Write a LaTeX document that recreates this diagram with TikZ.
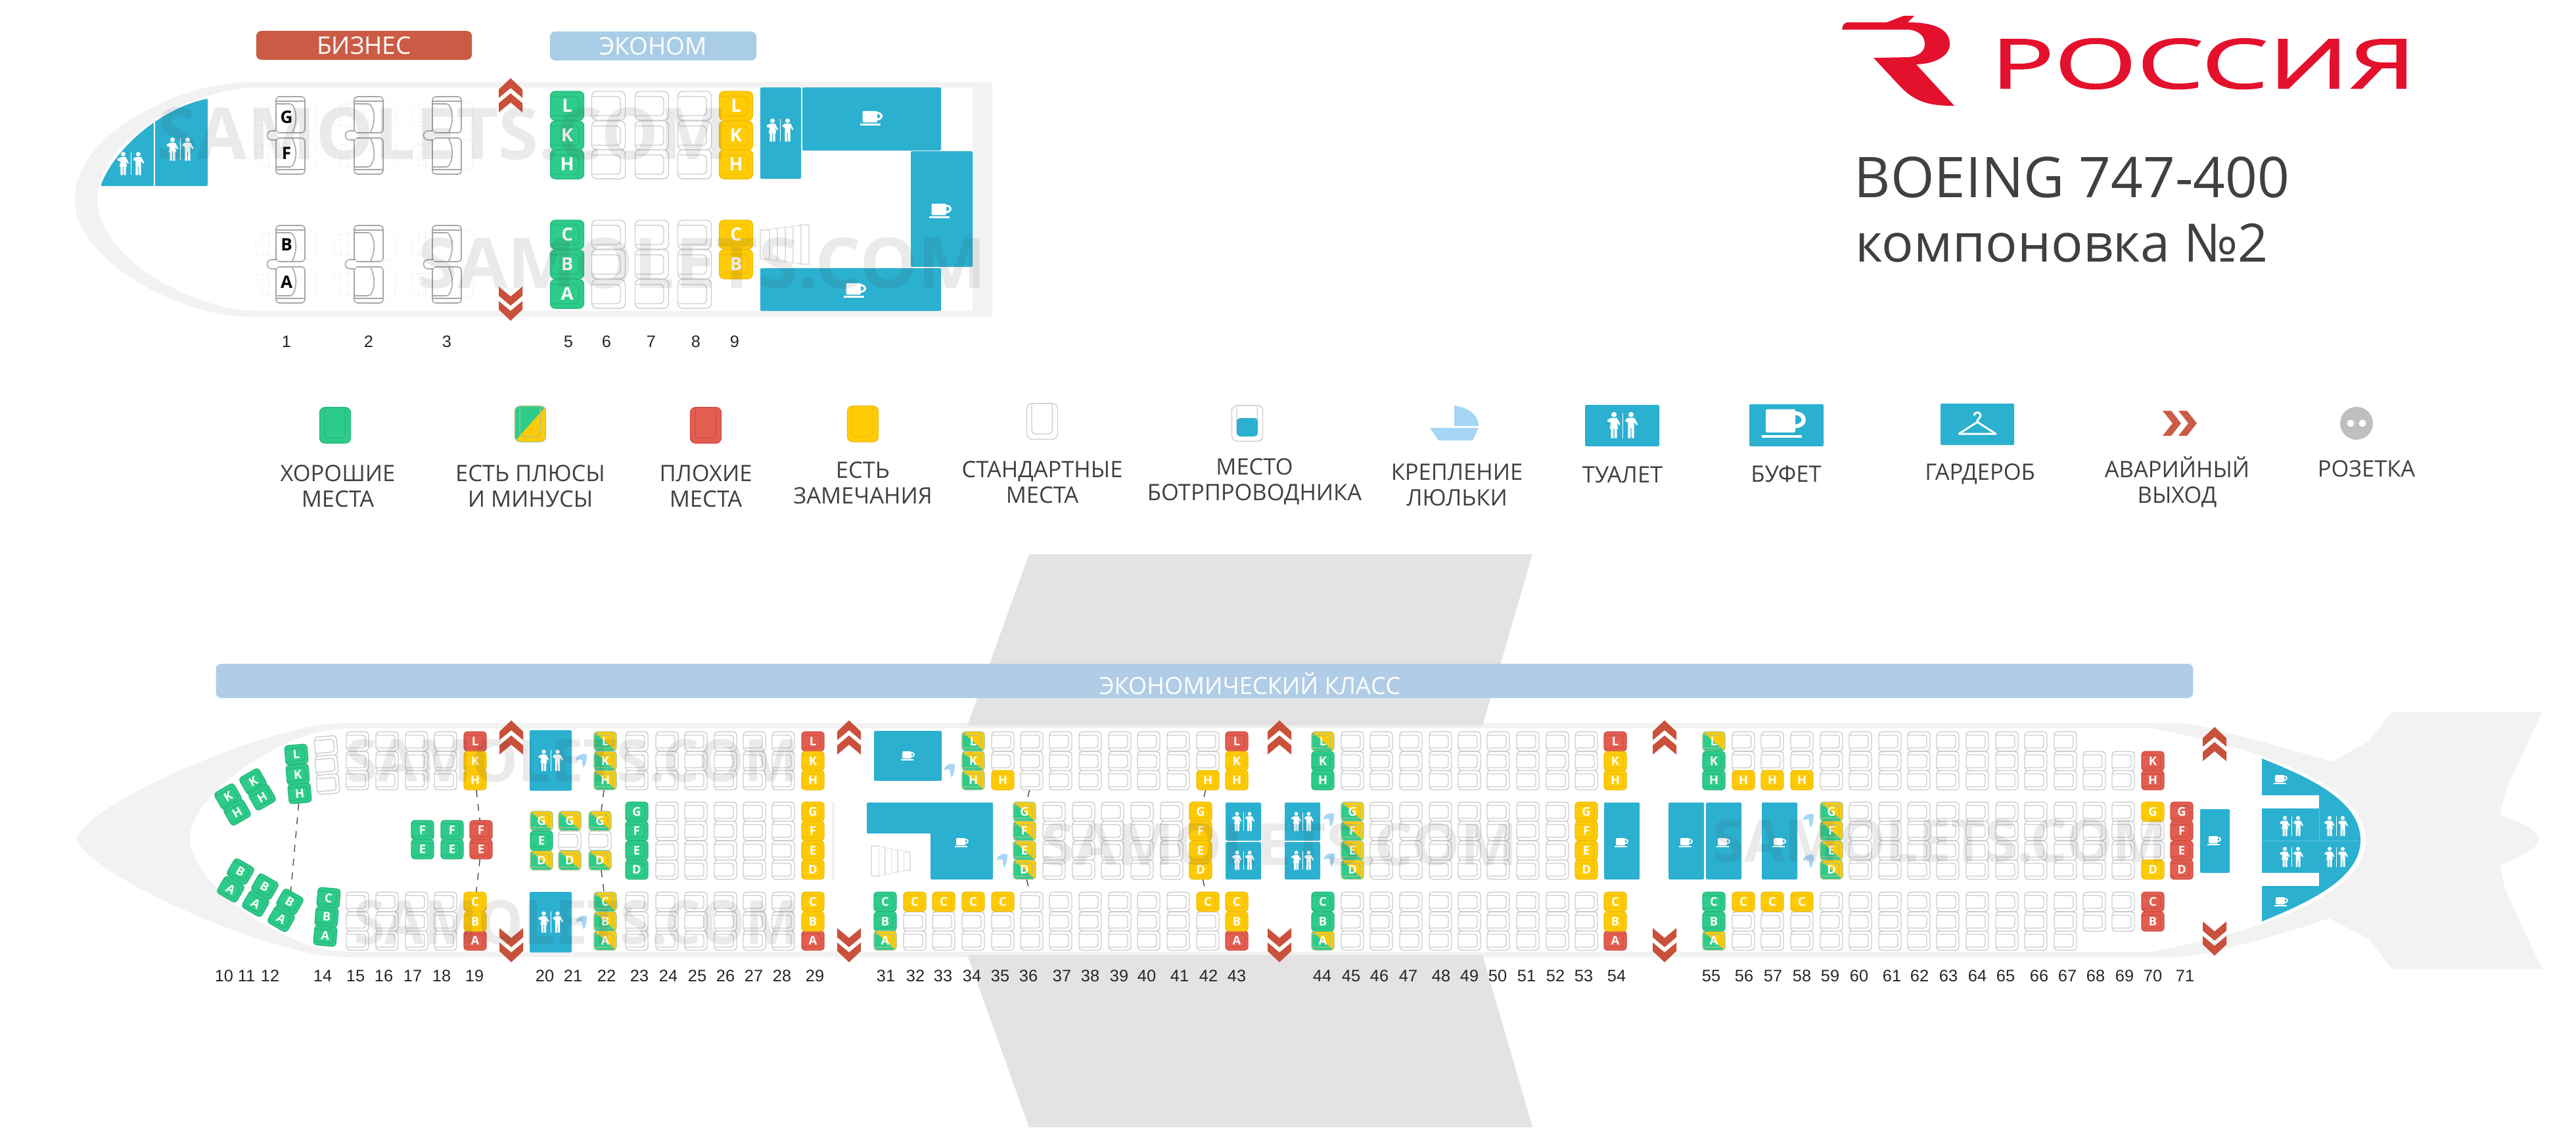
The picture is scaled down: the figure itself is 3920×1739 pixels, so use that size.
\documentclass[tikz,border=0pt]{standalone}
\usepackage{fontspec}
\setmainfont{Open Sans}
\newfontfamily\numfont{Liberation Sans}
\newfontfamily\logofont[FakeBold=1.2]{Open Sans}
\definecolor{segreen}{HTML}{2ECC8A}
\definecolor{segreendk}{HTML}{28B87E}
\definecolor{seyellow}{HTML}{FFCB05}
\definecolor{seyellowdk}{HTML}{F0BE08}
\definecolor{sered}{HTML}{E35D50}
\definecolor{sereddk}{HTML}{CF5044}
\definecolor{sehalfdk}{HTML}{A8C48C}
\definecolor{seline}{HTML}{CDCDCD}
\definecolor{galley}{HTML}{2BB0D0}
\definecolor{exitred}{HTML}{C9503A}
\definecolor{bizred}{HTML}{CC5B45}
\definecolor{ecoblue}{HTML}{A9CDE6}
\definecolor{barblue}{HTML}{B0CCE6}
\definecolor{band}{HTML}{F2F2F2}
\definecolor{wing}{HTML}{E3E3E3}
\definecolor{textgray}{HTML}{404040}
\definecolor{cradlecol}{HTML}{A5D6F5}
\definecolor{logored}{HTML}{E4112C}
\tikzset{
	seatempty/.style={draw=seline,fill=white},
	seatgreen/.style={draw=segreendk,fill=segreen},
	seatyellow/.style={draw=seyellowdk,fill=seyellow},
	seatred/.style={draw=sereddk,fill=sered},
	seathalf/.style={draw=sehalfdk,fill=segreen,path picture={\fill[seyellow] (-18,-16)--(18,-16)--(18,16)--cycle;}},
	num/.style={font=\numfont\fontsize{7.2}{8}\selectfont,text=black!85,inner sep=0pt},
	legend/.style={font=\fontsize{9.8}{11.1}\selectfont,text=textgray,align=center,inner sep=0pt},
	classbar/.style={rounded corners=.08cm,inner sep=0pt,text=white,font=\fontsize{10.5}{11}\selectfont},
	room/.style={fill=galley,rounded corners=.02cm},
	stairline/.style={draw=black!12,fill=white,line width=.012cm},
	bizletter/.style={text=black,inner sep=0pt,font=\bfseries\fontsize{7.4}{8}\selectfont},
	watermark/.style={text=black!75,text opacity=.11,inner sep=0pt,font=\bfseries},
	seatdash/.style={dashed,line width=.014cm,draw=black!70}
}
% size, style, name, x, y, rotation, letter
\newcommand{\seat}[7][1]{
	\begin{scope}[shift={(#4,#5)},rotate=#6,scale=#1]
		\draw[#2,line width=.014cm,rounded corners=#1*.05cm] (-17,-14.7) rectangle (17,14.7);
		\draw[#2,line width=.014cm,rounded corners=#1*.04cm,fill=none,path picture={}] (-16,-9.5) -- (12,-9.5) -- (12,10) -- (-16,10);
		\node[transform shape,minimum width=.34cm,minimum height=.29cm,inner sep=0pt,text=white,font=\bfseries\fontsize{5.2}{5.4}\selectfont] (#3) at (0,0) {#7};
	\end{scope}
}
\newcommand{\seatcol}[5][1]{\foreach \r/\y in {#5} {\seat[#1]{#2}{#3\r}{#4}{\y}{0}{\r}}}
\newcommand{\blank}[2]{\foreach \x in {#1} {\foreach \y in {#2} {\seat{seatempty}{e\x y\y}{\x}{\y}{0}{}}}}
\newcommand{\exitmark}[3]{
	\begin{scope}[shift={(#1,#2)},yscale=#3]
		\fill[exitred] (0,-26)--(18,-9)--(18,4)--(0,-11)--(-18,4)--(-18,-9)--cycle;
		\fill[exitred] (0,-3)--(18,12)--(18,26)--(0,11)--(-18,26)--(-18,12)--cycle;
	\end{scope}
}
\newcommand{\cupicon}[3]{
	\begin{scope}[shift={(#1,#2)},scale=#3]
		\fill[white,rounded corners=.02cm] (-9,-7) rectangle (5,4);
		\fill[white,even odd rule] (5,-2) ellipse (5 and 4) (5,-2) ellipse (3 and 2.2);
		\fill[white] (-11,5.2) rectangle (8,6.6);
	\end{scope}
}
\newcommand{\wcicon}[3]{
	\begin{scope}[shift={(#1,#2)},scale=#3]
		\fill[white] (-10,-12.5) circle [radius=3.1];
		\fill[white] (-13.5,-8.5)--(-6.5,-8.5)--(-2.5,-1)--(-4,0)--(-6.5,-3.5)--(-5,4)--(-6.5,4)--(-6.5,15)--(-9.5,15)--(-9.5,4)--(-10.5,4)--(-10.5,15)--(-13.5,15)--(-13.5,4)--(-15,4)--(-13.5,-3)--(-17,-4)--(-18,-6)--cycle;
		\fill[white] (-.4,-15) rectangle (.4,15);
		\fill[white] (10,-12.5) circle [radius=3.1];
		\fill[white] (6,-8.5)--(14,-8.5)--(18,-1)--(16.5,0)--(13.5,-4)--(13.5,15)--(10.6,15)--(10.4,3)--(9.6,3)--(9.4,15)--(6.5,15)--(6.5,-3)--(3,-5)--(4,-7)--cycle;
	\end{scope}
}
\newcommand{\cradle}[2]{
	\fill[cradlecol,shift={(#1,#2)}] (-8,-3) .. controls (-4,-10) and (3,-11) .. (8,-9) .. controls (8,-2) and (7,6) .. (3,11) .. controls (1,6) and (1,2) .. (1,-1) .. controls (-2,-2) and (-5,-2) .. (-8,0) -- cycle;
}
\newcommand{\stairs}[5]{% left x, mid y, step, first half height, growth
	\foreach \i in {5,4,3,2,1,0} {
		\pgfmathsetmacro{\sx}{#1+\i*#3}
		\pgfmathsetmacro{\sh}{#4+\i*#5}
		\draw[stairline] (\sx,#2-\sh) rectangle ++(#3+2,2*\sh);
	}
}
\newcommand{\bizpair}[2]{
	\begin{scope}[shift={(#1,#2)}]
		\foreach \s in {1,-1} {
			\begin{scope}[yscale=\s]
				\draw[black!18,densely dotted,line width=.01cm,rounded corners=.04cm] (-22,-50) -- (-53,-43) -- (-53,-16) -- (-22,-12);
				\draw[black!18,densely dotted,line width=.01cm] (-43,-47) -- (-43,-14) (-33,-49) -- (-33,-13);
				\draw[black!18,densely dotted,line width=.01cm,rounded corners=.08cm] (22,-51) -- (40,-51) -- (40,-7) -- (22,-7);
				\draw[black!35,line width=.016cm,fill=white,rounded corners=.05cm] (-22,-59) rectangle (22,-4);
				\draw[black!35,line width=.016cm] (-22,-52) -- (22,-52);
				\draw[black!35,line width=.016cm,rounded corners=.03cm] (-22,-48) -- (2,-48) .. controls (10,-35) and (10,-20) .. (3,-5);
			\end{scope}
		}
		\draw[black!35,line width=.016cm,fill=white] (-20,-7) -- (-28,-7) .. controls (-38,-7) and (-38,7) .. (-28,7) -- (-20,7);
	\end{scope}
}
\begin{document}
\begin{tikzpicture}[x=.01cm,y=-.01cm]
	\useasboundingbox (0,0) rectangle (3920,1739);
	% plane silhouettes
	\fill[band,even odd rule] (114,303) .. controls (114,200) and (280,125) .. (377,125) -- (1510,125) -- (1510,482) -- (377,482) .. controls (280,482) and (114,400) .. (114,303) -- cycle
		(148,303) .. controls (148,215) and (290,133) .. (395,133) -- (1480,133) -- (1480,473) -- (395,473) .. controls (290,473) and (148,390) .. (148,303) -- cycle;
	\fill[band] (116,1276) .. controls (140,1215) and (420,1100) .. (522,1100) -- (3316,1100) .. controls (3340,1100) and (3450,1130) .. (3549,1159) -- (3604,1128) -- (3640,1083) -- (3868,1083) -- (3814,1200) -- (3804,1239) .. controls (3840,1252) and (3863,1265) .. (3863,1277) .. controls (3863,1290) and (3840,1302) .. (3804,1316) -- (3813,1355) -- (3868,1474) -- (3639,1474) -- (3604,1428) -- (3544,1397) .. controls (3450,1430) and (3340,1456) .. (3316,1456) -- (522,1456) .. controls (420,1456) and (140,1337) .. (116,1276) -- cycle;
	\fill[white] (531,1108) -- (3276,1108) .. controls (3330,1120) and (3400,1135) .. (3442,1150) .. controls (3525,1180) and (3600,1220) .. (3600,1278) .. controls (3600,1336) and (3525,1376) .. (3442,1406) .. controls (3400,1421) and (3330,1436) .. (3276,1448) -- (531,1448) .. controls (430,1448) and (289,1342) .. (289,1276) .. controls (289,1210) and (430,1108) .. (531,1108) -- cycle;
	\fill[wing] (1566,843) -- (2332,843) -- (2256,1104) -- (1472,1104) -- cycle;
	\fill[wing] (1472,1453) -- (2256,1453) -- (2332,1715) -- (1566,1715) -- cycle;
	% logo and title
	\fill[logored] (2803,45) .. controls (2804,38) and (2806,35) .. (2811,34) -- (2871,34) -- (2897,24) -- (2913,24) -- (2903,34) .. controls (2945,34) and (2967,45) .. (2967,67) .. controls (2967,85) and (2945,97) .. (2916,98) -- (2974,161) .. controls (2935,161) and (2915,155) .. (2893,133) -- (2851,88) -- (2906,87) .. controls (2920,85) and (2929,78) .. (2929,67) .. controls (2929,55) and (2920,46) .. (2903,45) -- cycle;
	\node[text=logored,inner sep=0pt] (logotext) at (3353,97) {\resizebox{6.47cm}{.76cm}{\logofont РОССИЯ}};
	\node[anchor=base west,inner sep=0pt,text=textgray,font=\fontsize{24.3}{26}\selectfont] (plane) at (2821,300) {BOEING 747-400};
	\node[anchor=base west,inner sep=0pt,text=textgray,font=\fontsize{22.9}{26}\selectfont] (layout) at (2823,398) {компоновка №2};
	% class bars
	\node[classbar,fill=bizred,minimum width=3.28cm,minimum height=.44cm] (bizbar) at (554,69) {БИЗНЕС};
	\node[classbar,fill=ecoblue,minimum width=3.14cm,minimum height=.44cm] (ecobar) at (994,70) {ЭКОНОМ};
	\node[classbar,fill=barblue,minimum width=30.07cm,minimum height=.52cm] (mainbar) at (1833,1036) {};
	\node[text=white,inner sep=0pt,font=\fontsize{10.3}{11}\selectfont] (mainbartext) at (1902,1040) {ЭКОНОМИЧЕСКИЙ КЛАСС};
	% upper deck rooms
	\fill[galley,rounded corners=.02cm] (153,283) .. controls (175,225) and (245,165) .. (316,150) -- (316,283) -- cycle;
	\draw[white,line width=.015cm] (235,180) -- (235,283);
	\wcicon{199}{249}{1.15}
	\wcicon{274}{227}{1.15}
	\fill[room] (1157,133) rectangle (1219,272);
	\wcicon{1187}{198}{1.15}
	\fill[room] (1221,133) rectangle (1432,229);
	\cupicon{1327}{180}{1.6}
	\fill[room] (1386,230) rectangle (1480,406);
	\cupicon{1432}{321}{1.6}
	\fill[room] (1157,408) rectangle (1432,473);
	\cupicon{1302}{442}{1.6}
	\stairs{1157}{372}{12}{22}{1.6}
	\exitmark{777}{145}{1}
	\exitmark{777}{462}{-1}
	% business seats
	\foreach \x in {442,561,680} {
		\bizpair{\x}{206}
		\bizpair{\x}{402}
	}
	\node[bizletter] (markG) at (436,178) {G};
	\node[bizletter] (markF) at (436,233) {F};
	\node[bizletter] (markB) at (436,372) {B};
	\node[bizletter] (markA) at (436,429) {A};
	% upper deck economy
	\seatcol[1.5]{seatgreen}{u5}{863}{L/161,K/206,H/250,C/357,B/402,A/447}
	\foreach \x in {926,992,1057} {
		\foreach \y in {161,206,250,357,402,447} {
			\seat[1.5]{seatempty}{u\x y\y}{\x}{\y}{0}{}
		}
	}
	\seatcol[1.5]{seatyellow}{u9}{1120}{L/161,K/206,H/250,C/357,B/402}
	\foreach \n/\x in {1/436,2/561,3/680,5/865,6/923,7/991,8/1059,9/1118} {
		\node[num] (top\n) at (\x,520) {\n};
	}
	% legend
	\seat[1.6]{seatgreen}{lgood}{510}{647}{-90}{}
	\seat[1.6]{seathalf}{lhalf}{807}{645}{-90}{}
	\seat[1.6]{seatred}{lbad}{1074}{647}{-90}{}
	\seat[1.6]{seatyellow}{lnote}{1313}{645}{-90}{}
	\seat[1.6]{seatempty}{lstd}{1586}{641}{-90}{}
	\seat[1.6]{seatempty}{lcrew}{1898}{644}{-90}{}
	\fill[galley,rounded corners=.05cm] (1882,636) rectangle (1914,664);
	\fill[cradlecol] (2213,617) .. controls (2235,620) and (2250,632) .. (2250,648) -- (2213,648) -- cycle;
	\fill[cradlecol] (2176,651) -- (2250,651) -- (2241,670) -- (2189,670) -- cycle;
	\fill[room] (2412,616) rectangle (2525,679);
	\wcicon{2469}{647}{1.3}
	\fill[room] (2662,615) rectangle (2775,679);
	\cupicon{2716}{645}{3.2}
	\fill[room] (2953,614) rectangle (3065,677);
	\draw[white,line width=.03cm,line join=round] (3004,632) .. controls (3004,626) and (3014,626) .. (3014,632) .. controls (3014,636) and (3009,636) .. (3009,642) -- (3037,660) -- (2981,660) -- (3009,642);
	\fill[bizred] (3291,625) -- (3304,625) -- (3319,644) -- (3304,663) -- (3291,663) -- (3306,644) -- cycle;
	\fill[bizred] (3315,625) -- (3328,625) -- (3343,644) -- (3328,663) -- (3315,663) -- (3330,644) -- cycle;
	\fill[black!25] (3586,644) circle [radius=25];
	\fill[white] (3577,644) circle [radius=5.5] (3595,644) circle [radius=5.5];
	\node[legend] (lab1) at (514,740) {ХОРОШИЕ\\МЕСТА};
	\node[legend] (lab2) at (807,740) {ЕСТЬ ПЛЮСЫ\\И МИНУСЫ};
	\node[legend] (lab3) at (1074,740) {ПЛОХИЕ\\МЕСТА};
	\node[legend] (lab4) at (1313,735) {ЕСТЬ\\ЗАМЕЧАНИЯ};
	\node[legend] (lab5) at (1586,734) {СТАНДАРТНЫЕ\\МЕСТА};
	\node[legend] (lab6) at (1909,733) {МЕСТО\\БОТРПРОВОДНИКА};
	\node[legend] (lab7) at (2217,738) {КРЕПЛЕНИЕ\\ЛЮЛЬКИ};
	\node[legend] (lab8) at (2469,722) {ТУАЛЕТ};
	\node[legend] (lab9) at (2718,721) {БУФЕТ};
	\node[legend] (lab10) at (3013,721) {ГАРДЕРОБ};
	\node[legend] (lab11) at (3313,733) {АВАРИЙНЫЙ\\ВЫХОД};
	\node[legend] (lab12) at (3601,713) {РОЗЕТКА};
	% main deck rooms
	\foreach \y in {1111,1357} {
		\fill[room] (806,\y) rectangle (870,\y+92);
		\wcicon{838}{\y+46}{1.05}
	}
	\draw[black!6,line width=.04cm] (1268,1221) -- (1268,1338);
	\fill[room] (1330,1112) rectangle (1433,1188);
	\cupicon{1382}{1150}{1}
	\fill[room] (1319,1221) -- (1511,1221) -- (1511,1338) -- (1416,1338) -- (1416,1268) -- (1319,1268) -- cycle;
	\cupicon{1464}{1282}{1}
	\stairs{1326}{1310}{9.5}{23}{-1.8}
	\foreach \x in {1865,1955} {
		\fill[room] (\x,1221) rectangle (\x+54,1279);
		\fill[room] (\x,1281) rectangle (\x+54,1338);
		\wcicon{\x+27}{1250}{.95}
		\wcicon{\x+27}{1309}{.95}
	}
	\foreach \x in {2441,2539,2596,2681} {
		\fill[room] (\x,1221) rectangle (\x+54,1338);
		\cupicon{\x+27}{1282}{1}
	}
	\fill[room] (3348,1231) rectangle (3393,1328);
	\cupicon{3370}{1279}{1}
	\fill[galley] (3442,1154) .. controls (3520,1185) and (3592,1220) .. (3592,1278) .. controls (3592,1335) and (3520,1370) .. (3442,1402) -- cycle;
	\fill[white] (3442,1210) rectangle (3529,1230);
	\fill[white] (3442,1328) rectangle (3529,1348);
	\draw[white,opacity=.25,line width=.01cm] (3529,1230) -- (3529,1279) (3442,1279) -- (3592,1279);
	\cupicon{3471}{1186}{1}
	\cupicon{3472}{1372}{1}
	\wcicon{3487}{1257}{1}
	\wcicon{3555}{1257}{1}
	\wcicon{3487}{1304}{1}
	\wcicon{3555}{1304}{1}
	\foreach \x/\y in {885/1157,885/1403,1445/1172,1525/1309,2022/1247,2023/1308,2752/1248,2752/1310} {
		\cradle{\x}{\y}
	}
	\foreach \x in {778,1292,1947,2533} {
		\exitmark{\x}{1122}{1}
		\exitmark{\x}{1438}{-1}
	}
	\exitmark{3370}{1132}{1}
	\exitmark{3370}{1428}{-1}
	% empty seats
	\blank{544,589,634,678,969,1015,1059,1104,1148,1192,1570,1614,1659,1704,1748,1793,2058,2102,2147,2192,2236,2280,2325,2370,2414}{1128,1158,1187,1372,1402,1431}
	\blank{1526,1838}{1128,1158,1402,1431}
	\blank{1392,1436,1481}{1402,1431}
	\blank{1015,1059,1104,1148,1192,1604,1649,1693,1738,1783,2102,2147,2192,2236,2280,2325,2370,2831,2876,2920,2964,3009,3054,3098,3143,3187,3231}{1235,1264,1294,1323}
	\blank{2653,2697,2742,2787,2831,2876,2920,2964,3009,3054,3098,3143}{1128,1431}
	\blank{3187,3231}{1158,1187,1372,1402}
	\blank{2653,2697,2742,2787,2831,2876,2920,2964,3009,3054,3098,3143}{1158,1402}
	\blank{2787,2831,2876,2920,2964,3009,3054,3098,3143}{1187,1372}
	\blank{3276}{1264,1294}
	\blank{867,913}{1279}
	\seat{seatempty}{s14L}{496}{1135}{5}{}
	\seat{seatempty}{s14K}{497}{1164}{5}{}
	\seat{seatempty}{s14H}{499}{1193}{5}{}
	% front seats
	\seat{seatgreen}{s10K}{347}{1212}{30}{K}
	\seat{seatgreen}{s10H}{361}{1236}{30}{H}
	\seat{seatgreen}{s11K}{385}{1189}{30}{K}
	\seat{seatgreen}{s11H}{399}{1213}{30}{H}
	\seat{seatgreen}{s12L}{451}{1148}{5}{L}
	\seat{seatgreen}{s12K}{453}{1178}{5}{K}
	\seat{seatgreen}{s12H}{456}{1207}{5}{H}
	\seat{seatgreen}{s10B}{366}{1326}{-30}{B}
	\seat{seatgreen}{s10A}{351}{1353}{-30}{A}
	\seat{seatgreen}{s11B}{403}{1349}{-30}{B}
	\seat{seatgreen}{s11A}{389}{1375}{-30}{A}
	\seat{seatgreen}{s12B}{441}{1372}{-30}{B}
	\seat{seatgreen}{s12A}{428}{1398}{-30}{A}
	\seat{seatgreen}{s14C}{500}{1366}{-5}{C}
	\seat{seatgreen}{s14B}{497}{1395}{-5}{B}
	\seat{seatgreen}{s14A}{495}{1424}{-5}{A}
	\seatcol{seatgreen}{s17}{643}{F/1263,E/1292}
	\seatcol{seatgreen}{s18}{688}{F/1263,E/1292}
	\seatcol{seatred}{s19}{732}{F/1263,E/1292}
	\seatcol{seatred}{s19}{723}{L/1128,A/1431}
	\seatcol{seatyellow}{s19}{723}{K/1158,H/1187,C/1372,B/1402}
	\seatcol{seathalf}{s20}{824}{G/1249,D/1309}
	\seat{seatgreen}{s20E}{824}{1279}{0}{E}
	\seatcol{seathalf}{s21}{867}{G/1249,D/1309}
	\seatcol{seathalf}{s22}{913}{G/1249,D/1309}
	\seatcol{seathalf}{s22}{921}{L/1128,K/1158,H/1187,C/1372,B/1402,A/1431}
	\seatcol{seatgreen}{s23}{969}{G/1235,F/1264,E/1294,D/1323}
	\seatcol{seatred}{s29}{1237}{L/1128,A/1431}
	\seatcol{seatyellow}{s29}{1237}{K/1158,H/1187,G/1235,F/1264,E/1294,D/1323,C/1372,B/1402}
	% middle seats
	\seatcol{seatgreen}{s31}{1347}{C/1372,B/1402}
	\seatcol{seathalf}{s31}{1347}{A/1431}
	\seatcol{seatyellow}{s32}{1392}{C/1372}
	\seatcol{seatyellow}{s33}{1436}{C/1372}
	\seatcol{seatyellow}{s34}{1481}{C/1372}
	\seatcol{seathalf}{s34}{1481}{L/1128,K/1158,H/1187}
	\seatcol{seatyellow}{s35}{1526}{H/1187,C/1372}
	\seatcol{seathalf}{s36}{1559}{G/1235,F/1264,E/1294,D/1323}
	\seatcol{seatyellow}{s42}{1838}{H/1187,C/1372}
	\seatcol{seatyellow}{s42}{1827}{G/1235,F/1264,E/1294,D/1323}
	\seatcol{seatred}{s43}{1882}{L/1128,A/1431}
	\seatcol{seatyellow}{s43}{1882}{K/1158,H/1187,C/1372,B/1402}
	\seatcol{seathalf}{s44}{2013}{L/1128,A/1431}
	\seatcol{seatgreen}{s44}{2013}{K/1158,H/1187,C/1372,B/1402}
	\seatcol{seathalf}{s45}{2058}{G/1235,F/1264,E/1294,D/1323}
	\seatcol{seatyellow}{s53}{2414}{G/1235,F/1264,E/1294,D/1323}
	\seatcol{seatred}{s54}{2458}{L/1128,A/1431}
	\seatcol{seatyellow}{s54}{2458}{K/1158,H/1187,C/1372,B/1402}
	% rear seats
	\seatcol{seathalf}{s55}{2608}{L/1128,A/1431}
	\seatcol{seatgreen}{s55}{2608}{K/1158,H/1187,C/1372,B/1402}
	\foreach \x in {2653,2697,2742} {
		\seatcol{seatyellow}{r\x}{\x}{H/1187,C/1372}
	}
	\seatcol{seathalf}{s59}{2787}{G/1235,F/1264,E/1294,D/1323}
	\seatcol{seatred}{s70}{3276}{K/1158,H/1187,C/1372,B/1402}
	\seatcol{seatyellow}{s70}{3276}{G/1235,D/1323}
	\seatcol{seatred}{s71}{3320}{G/1235,F/1264,E/1294,D/1323}
	\foreach \n/\x in {10/341,11/375,12/411,14/491,15/541,16/584,17/628,18/672,19/722,20/829,21/872,22/923,23/973,24/1017,25/1061,26/1104,27/1147,28/1190,29/1240,31/1348,32/1393,33/1435,34/1479,35/1522,36/1565,37/1616,38/1659,39/1703,40/1745,41/1795,42/1839,43/1882,44/2012,45/2056,46/2099,47/2143,48/2193,49/2236,50/2279,51/2323,52/2367,53/2410,54/2460,55/2604,56/2654,57/2698,58/2742,59/2785,60/2829,61/2879,62/2921,63/2965,64/3009,65/3052,66/3103,67/3146,68/3189,69/3233,70/3276,71/3325} {
		\node[num] (col\n) at (\x,1485) {\n};
	}
	% dashed links between seats
	\draw[seatdash] (s12H) -- (s12B);
	\draw[seatdash] (s19H) -- (s19F);
	\draw[seatdash] (s19E) -- (s19C);
	\draw[seatdash] (s22H) -- (s22G);
	\draw[seatdash] (s22D) -- (s22C);
	\draw[seatdash] (e1570y1187) -- (s36G);
	\draw[seatdash] (s36D) -- (e1570y1372);
	\draw[seatdash] (s42H) -- (s42G);
	\draw[seatdash] (s42D) -- (s42C);
	% watermarks
	\node[watermark] (wm1) at (673,204) {\resizebox{8.69cm}{.79cm}{SAMOLETS.COM}};
	\node[watermark] (wm2) at (1068,401) {\resizebox{8.65cm}{.77cm}{SAMOLETS.COM}};
	\node[watermark] (wm3) at (871,1158) {\resizebox{6.89cm}{.65cm}{SAMOLETS.COM}};
	\node[watermark] (wm4) at (877,1404) {\resizebox{6.77cm}{.67cm}{SAMOLETS.COM}};
	\node[watermark] (wm5) at (1947,1285) {\resizebox{7.25cm}{.64cm}{SAMOLETS.COM}};
	\node[watermark] (wm6) at (2952,1280) {\resizebox{6.92cm}{.65cm}{SAMOLETS.COM}};
\end{tikzpicture}
\end{document}
